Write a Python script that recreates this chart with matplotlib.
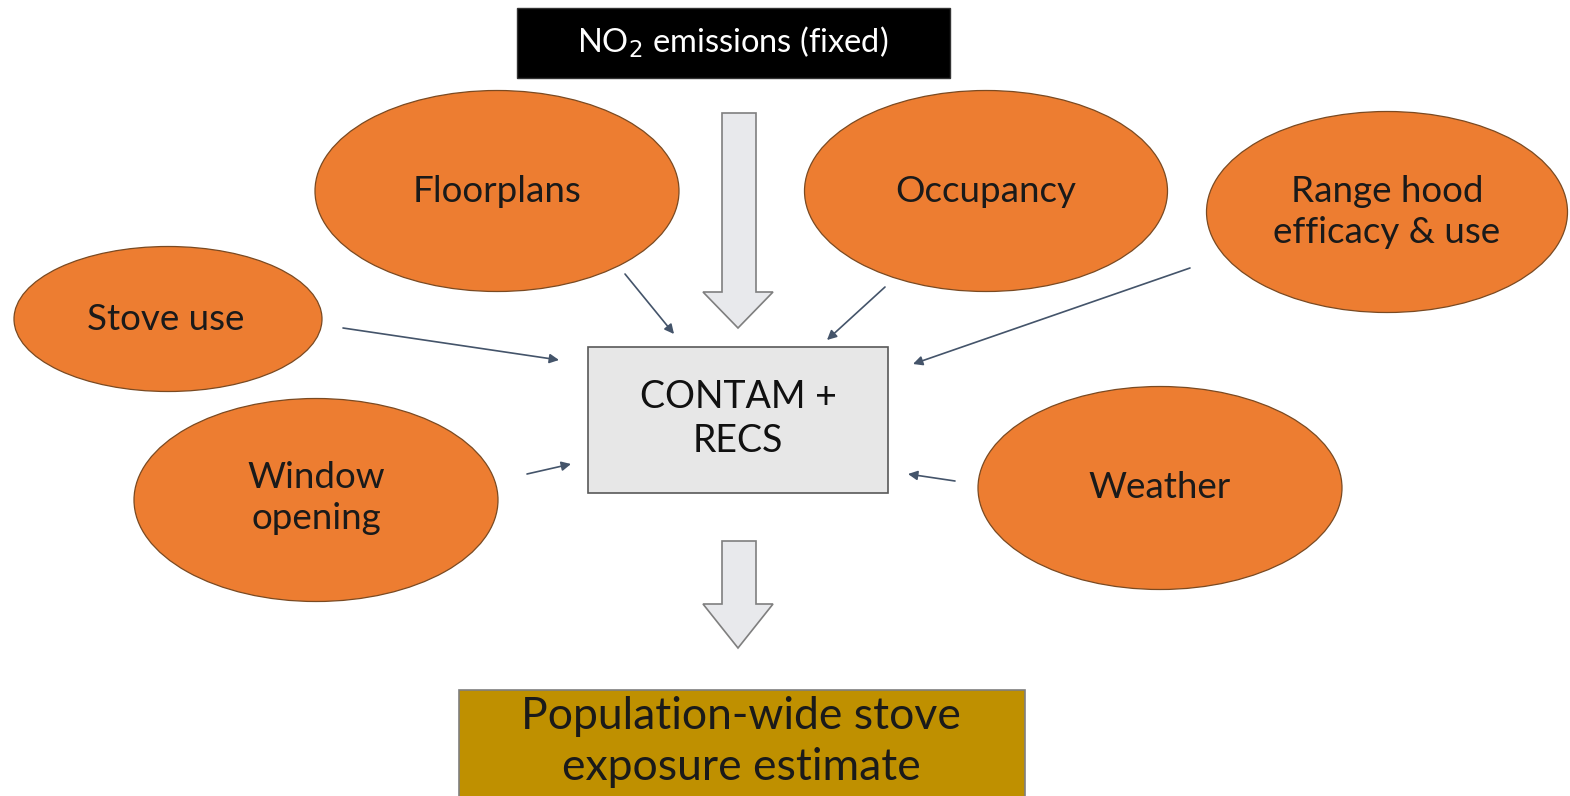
import matplotlib
matplotlib.use('Agg')
import matplotlib.pyplot as plt
from matplotlib.patches import Ellipse, Rectangle, Polygon

plt.rcParams['font.family'] = ['Lato', 'DejaVu Sans']

# 节点文字
input_labels = ['Floorplans', 'Occupancy', 'Range hood\nefficacy & use',
                'Stove use', 'Window\nopening', 'Weather']
top_label = 'NO$_2$ emissions (fixed)'
model_label = 'CONTAM +\nRECS'
result_label = 'Population-wide stove\nexposure estimate'

# 布局（像素坐标）
ell_centers = [(497, 191), (986, 191), (1387, 212), (168, 319), (316, 500), (1160, 488)]
ell_sizes = [(364, 201), (363, 201), (361, 201), (308, 145), (364, 203), (364, 203)]
text_offsets = [(0, 0), (0, 0), (0, 0), (-2, 0), (0, -2), (0, -1)]
thin_arrows = [((625, 274), (674, 334)),
               ((885, 287), (827, 340)),
               ((1190, 268), (913, 364)),
               ((343, 328), (559, 360)),
               ((527, 474), (571, 464)),
               ((955, 481), (908, 474))]

orange = '#ed7d31'
arrow_fill = '#e8e9ec'

fig = plt.figure(figsize=(15.7, 7.96), dpi=100)
ax = fig.add_axes([0, 0, 1, 1])
ax.set_xlim(0, 1570)
ax.set_ylim(796, 0)
ax.axis('off')

# 顶部黑框
ax.add_patch(Rectangle((517, 8), 433, 70, facecolor='#000000', edgecolor='#333333', lw=1))
ax.text(733, 42, top_label, color='white', fontsize=23.5, ha='center', va='center')

# 大箭头
def big_arrow(y0, y1, yh):
    pts = [(722, y0), (756, y0), (756, yh), (773, yh), (738, y1), (703, yh), (722, yh)]
    ax.add_patch(Polygon(pts, closed=True, facecolor=arrow_fill, edgecolor='#7f7f7f', lw=1.2))

big_arrow(113, 328, 292)
big_arrow(541, 648, 604)

# 椭圆
for lab, c, s, off in zip(input_labels, ell_centers, ell_sizes, text_offsets):
    ax.add_patch(Ellipse(c, s[0], s[1], facecolor=orange, edgecolor='#7a4a22', lw=0.9))
    ax.text(c[0] + off[0], c[1] + off[1], lab, fontsize=26.5, ha='center', va='center',
            color='#1a1a1a', linespacing=1.32)

# 中心框
ax.add_patch(Rectangle((588, 347), 300, 146, facecolor='#e7e7e7', edgecolor='#595959', lw=1.2))
ax.text(738, 419, model_label, fontsize=27, ha='center', va='center', color='#111111',
        linespacing=1.27)

# 细箭头
for (x0, y0), (x1, y1) in thin_arrows:
    ax.annotate('', xy=(x1, y1), xytext=(x0, y0),
                arrowprops=dict(arrowstyle='-|>', color='#44546a', lw=1.2,
                                mutation_scale=14, shrinkA=0, shrinkB=0))

# 底部结果框
ax.add_patch(Rectangle((459, 690), 566, 120, facecolor='#bf9000', edgecolor='#7f7f7f', lw=1.2,
                       clip_on=True))
ax.text(741, 742, result_label, fontsize=32, ha='center', va='center', color='#1a1a1a',
        linespacing=1.3)

fig.savefig('out.png', dpi=100)
